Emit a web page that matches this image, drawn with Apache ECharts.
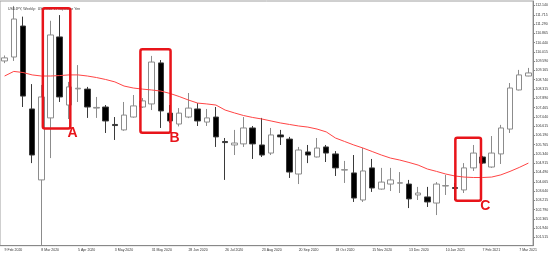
<!DOCTYPE html>
<html><head><meta charset="utf-8">
<script src="https://cdn.jsdelivr.net/npm/echarts@6/dist/echarts.min.js"></script>
<style>html,body{margin:0;padding:0;background:#fff}#c{width:554px;height:254px}</style>
</head><body><div id="c"></div>
<script>
const weeks = ['9 Feb 2020','16 Feb 2020','23 Feb 2020','1 Mar 2020','8 Mar 2020','15 Mar 2020','22 Mar 2020','29 Mar 2020',
'5 Apr 2020','12 Apr 2020','19 Apr 2020','26 Apr 2020','3 May 2020','10 May 2020','17 May 2020','24 May 2020',
'31 May 2020','7 Jun 2020','14 Jun 2020','21 Jun 2020','28 Jun 2020','5 Jul 2020','12 Jul 2020','19 Jul 2020',
'26 Jul 2020','2 Aug 2020','9 Aug 2020','16 Aug 2020','23 Aug 2020','30 Aug 2020','6 Sep 2020','13 Sep 2020',
'20 Sep 2020','27 Sep 2020','4 Oct 2020','11 Oct 2020','18 Oct 2020','25 Oct 2020','1 Nov 2020','8 Nov 2020',
'15 Nov 2020','22 Nov 2020','29 Nov 2020','6 Dec 2020','13 Dec 2020','20 Dec 2020','27 Dec 2020','3 Jan 2021',
'10 Jan 2021','17 Jan 2021','24 Jan 2021','31 Jan 2021','7 Feb 2021','14 Feb 2021','21 Feb 2021','28 Feb 2021',
'7 Mar 2021','14 Mar 2021'];

const opens = [109.60,109.78,111.20,107.40,104.15,106.99,110.70,107.58,108.32,108.31,
107.44,107.49,106.69,106.44,107.03,107.49,107.63,109.51,107.21,106.71,
107.03,107.40,106.80,107.03,105.91,105.75,105.80,106.53,105.75,105.38,
106.21,106.02,104.42,105.43,105.20,105.66,105.34,104.60,104.47,103.23,
104.70,103.73,103.96,104.00,103.96,103.46,103.37,103.09,103.87,103.80,
103.69,104.70,105.20,104.74,105.34,106.48,108.27,108.91];
const closes = [109.74,111.52,107.99,105.29,107.95,110.79,107.95,108.41,108.35,107.49,
107.47,106.85,106.64,107.12,107.54,107.77,109.55,107.31,106.85,107.21,
107.44,106.85,106.99,106.12,105.86,105.84,106.53,105.80,105.29,106.21,
106.12,104.51,105.52,105.29,105.61,105.38,104.70,104.62,103.32,104.56,
103.78,104.05,104.15,104.02,103.28,103.55,103.14,103.96,103.89,103.76,
104.70,105.38,104.92,105.38,106.53,108.36,108.96,109.05];
const highs = [109.85,112.12,111.63,108.54,108.50,111.44,111.70,108.64,109.41,108.41,
107.95,107.58,107.03,107.72,108.04,107.90,109.83,109.64,107.58,107.44,
108.13,107.67,107.40,107.49,106.07,106.44,107.03,106.62,106.99,106.53,
106.44,106.12,105.66,105.75,106.07,105.75,105.47,105.02,105.29,105.61,
105.11,104.70,104.70,104.51,104.15,103.83,103.83,104.05,104.38,104.01,
104.92,105.75,105.25,106.16,106.67,108.59,109.19,109.28];
const lows = [109.50,109.60,107.49,104.92,101.17,105.15,107.72,106.94,107.72,106.99,
106.99,106.30,105.98,106.40,107.00,107.45,107.35,106.53,106.76,106.60,
106.98,106.62,106.62,105.66,104.15,105.29,105.66,105.11,105.20,105.29,
105.75,104.24,103.96,104.92,105.18,104.97,104.33,104.01,103.14,103.14,
103.60,103.70,103.64,103.55,102.86,103.23,102.91,102.54,103.46,103.23,
103.55,104.56,104.88,104.70,104.88,106.30,108.25,108.90];
const maValues = [108.91,109.12,109.07,108.96,108.91,108.91,108.93,108.96,108.96,108.91,
108.84,108.75,108.64,108.45,108.36,108.31,108.27,108.22,108.11,107.97,
107.81,107.67,107.63,107.58,107.35,107.22,107.10,107.01,106.94,106.85,
106.76,106.69,106.62,106.57,106.48,106.35,106.07,105.91,105.75,105.61,
105.45,105.29,105.15,105.06,104.95,104.83,104.65,104.54,104.42,104.33,
104.28,104.26,104.26,104.28,104.38,104.54,104.72,104.92];
const yTicks = [112.140,111.715,111.290,110.865,110.440,110.015,109.590,109.165,108.740,108.315,
107.890,107.465,107.040,106.615,106.190,105.765,105.340,104.915,104.490,104.065,
103.640,103.215,102.790,102.365,101.940,101.515];
const yMin = 101.136, yMax = 112.346;
const titleText = 'USDJPY, Weekly:  US Dollar vs Japanese Yen';

// annotation boxes in data units (category index, price)
const boxes = [
  {name:'A', i0:4.16, i1:7.15, pTop:112.01, pBot:106.51, li:7.39, lp:106.30},
  {name:'B', i0:14.78, i1:18.06, pTop:110.13, pBot:106.31, li:18.5, lp:106.08},
  {name:'C', i0:49.05, i1:51.84, pTop:106.08, pBot:103.20, li:52.3, lp:102.97}
];

const candleData = opens.map((o, i) => [o, closes[i], lows[i], highs[i]]);
const font = 'Liberation Sans, Arial, sans-serif';

const chart = echarts.init(document.getElementById('c'), null, {renderer:'canvas'});
chart.setOption({
  animation: false,
  backgroundColor: '#fff',
  title: { text: titleText, left: 3, top: 2, textStyle: { fontSize: 3.5, fontWeight: 'normal', color: '#333', fontFamily: font } },
  grid: { left: -2.3, right: 21, top: 1, bottom: 8.3, show: true, borderColor: '#a0a0a0', borderWidth: 1 },
  xAxis: {
    type: 'category', data: weeks, boundaryGap: true,
    axisLine: { lineStyle: { color: '#888' } },
    axisTick: { interval: 3, alignWithLabel: true, length: 2, lineStyle: { color: '#888' } },
    axisLabel: { interval: 3, align: 'left', fontSize: 3.5, color: '#333', margin: 2.5, fontFamily: font },
    splitLine: { show: false }
  },
  yAxis: {
    type: 'value', position: 'right', min: yMin, max: yMax, scale: true,
    axisLine: { show: true, lineStyle: { color: '#888' } },
    axisTick: { show: true, length: 2, customValues: yTicks, lineStyle: { color: '#888' } },
    axisLabel: { customValues: yTicks, fontSize: 3.5, color: '#333', margin: 2.5, fontFamily: font,
      formatter: v => Number(v).toFixed(3) },
    splitLine: { show: false }
  },
  series: [
    { type: 'candlestick', data: candleData, barWidth: 6, clip: true,
      itemStyle: { color: '#fff', color0: '#000', borderColor: '#8c8c8c', borderColor0: '#3a3a3a', borderWidth: 1 } },
    { type: 'line', data: maValues, symbol: 'none', clip: true, z: 3,
      lineStyle: { color: '#ff4545', width: 1 } }
  ]
});

function px(i, p) {
  const a = chart.convertToPixel({gridIndex: 0}, [0, p]);
  const b = chart.convertToPixel({gridIndex: 0}, [1, p]);
  return [a[0] + (b[0] - a[0]) * i, a[1]];
}
const gfx = [];
boxes.forEach(bx => {
  const tl = px(bx.i0, bx.pTop), br = px(bx.i1, bx.pBot);
  gfx.push({ type: 'rect', shape: { x: tl[0], y: tl[1], width: br[0] - tl[0], height: br[1] - tl[1], r: 2 },
    style: { fill: 'none', stroke: '#e8141a', lineWidth: 2.5 }, z: 10 });
  const lp = px(bx.li, bx.lp);
  gfx.push({ type: 'text', x: lp[0], y: lp[1], z: 10,
    style: { text: bx.name, fill: '#e8141a', fontSize: 14, fontWeight: 'bold', fontFamily: font, align: 'center', verticalAlign: 'middle' } });
});
chart.setOption({ graphic: gfx });
</script>
</body></html>
